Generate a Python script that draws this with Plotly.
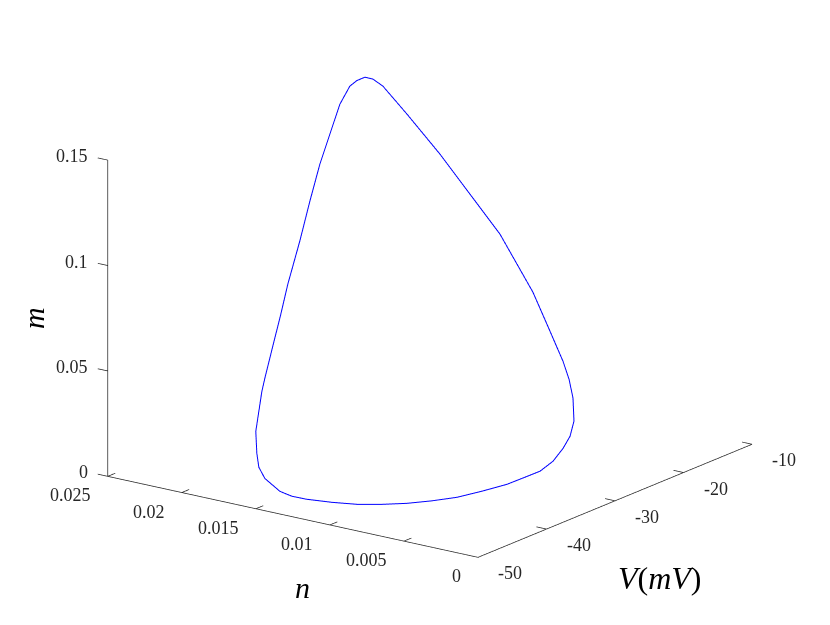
import plotly.graph_objects as go

# limit cycle (V in mV, gating variables n and m)
V = [-17, -16.5, -16, -16, -17, -18, -19.5, -21.5, -23, -24.5, -25.3, -26, -28,
     -29.2, -30.5, -31.8, -33, -35.5, -37, -38.5, -40, -41.5, -43, -44.5, -45.5,
     -46.5, -46.9, -47.2, -47.7, -47.9, -48, -48, -47.5, -47, -46.5, -45, -43,
     -40, -36, -31, -26, -22, -19, -18]
n = [0.02291, 0.02260, 0.02216, 0.02053, 0.01784, 0.01515, 0.01263, 0.00948,
     0.00763, 0.00606, 0.00528, 0.00469, 0.00370, 0.00341, 0.00328, 0.00336,
     0.00368, 0.00475, 0.00575, 0.00674, 0.00774, 0.00873, 0.00973, 0.01072,
     0.01195, 0.01317, 0.01400, 0.01467, 0.01546, 0.01577, 0.01586, 0.01593,
     0.01575, 0.01578, 0.01551, 0.01563, 0.01608, 0.01666, 0.01783, 0.01947,
     0.02111, 0.02228, 0.02300, 0.02299]
m = [0.1483, 0.1472, 0.1439, 0.1331, 0.1196, 0.1042, 0.0930, 0.0730, 0.0593,
     0.0495, 0.0432, 0.0361, 0.0294, 0.0243, 0.0205, 0.0160, 0.0124, 0.0079,
     0.0051, 0.0027, 0.0015, 0.0008, 0.0008, 0.0013, 0.0017, 0.0026, 0.0033,
     0.0050, 0.0106, 0.0157, 0.0223, 0.0326, 0.0512, 0.0567, 0.0707, 0.0846,
     0.0955, 0.1110, 0.1228, 0.1311, 0.1361, 0.1432, 0.1466, 0.1479]

V_ticks = [-50, -40, -30, -20, -10]
n_ticks = [0, 0.005, 0.01, 0.015, 0.02, 0.025]
n_labels = ['0', '0.005', '0.01', '0.015', '0.02', '0.025']
m_ticks = [0, 0.05, 0.1, 0.15]
m_labels = ['0', '0.05', '0.1', '0.15']

V_lim = [-50, -10]
n_lim = [0, 0.025]
m_lim = [0, 0.15]

axcol = '#262626'
tick_font = dict(family='Liberation Serif', size=18, color=axcol)
title_font = dict(family='Liberation Serif', size=30, color='black')

fig = go.Figure()

# closed orbit
fig.add_trace(go.Scatter3d(
    x=V + V[:1], y=n + n[:1], z=m + m[:1],
    mode='lines', line=dict(color='#0000ff', width=2),
    hoverinfo='skip', showlegend=False,
))

# axis lines (matlab style, box off)
ax_x = [V_lim[0], V_lim[0], None, V_lim[0], V_lim[0], V_lim[1]]
ax_y = [n_lim[1], n_lim[1], None, n_lim[1], n_lim[0], n_lim[0]]
ax_z = [m_lim[0], m_lim[1], None, 0, 0, 0]

# tick marks
tl = 0.027
dn = tl * (n_lim[1] - n_lim[0])
dV = tl * (V_lim[1] - V_lim[0])
for t in m_ticks:
    ax_x += [None, V_lim[0], V_lim[0]]
    ax_y += [None, n_lim[1], n_lim[1] + dn]
    ax_z += [None, t, t]
for t in n_ticks:
    ax_x += [None, V_lim[0], V_lim[0] + dV]
    ax_y += [None, t, t]
    ax_z += [None, 0, 0]
for t in V_ticks:
    ax_x += [None, t, t]
    ax_y += [None, n_lim[0], n_lim[0] + dn]
    ax_z += [None, 0, 0]

fig.add_trace(go.Scatter3d(
    x=ax_x, y=ax_y, z=ax_z, mode='lines',
    line=dict(color=axcol, width=1.5),
    hoverinfo='skip', showlegend=False, connectgaps=False,
))

annots = []
for t, lab in zip(m_ticks, m_labels):
    annots.append(dict(x=V_lim[0], y=n_lim[1], z=t, text=lab, showarrow=False,
                       xanchor='right', yanchor='middle', xshift=-18, yshift=4,
                       font=tick_font))
for t, lab in zip(n_ticks, n_labels):
    annots.append(dict(x=V_lim[0], y=t, z=0, text=lab, showarrow=False,
                       xanchor='right', yanchor='top', xshift=-15, yshift=-7,
                       font=tick_font))
for t in V_ticks:
    annots.append(dict(x=t, y=n_lim[0], z=0, text=str(t), showarrow=False,
                       xanchor='left', yanchor='middle', xshift=18, yshift=-16,
                       font=tick_font))
# axis titles
annots.append(dict(x=V_lim[0], y=n_lim[1], z=0.075, text='<i>m</i>', showarrow=False,
                   textangle=-90, xshift=-75, font=title_font))
annots.append(dict(x=V_lim[0], y=0.0125, z=0, text='<i>n</i>', showarrow=False,
                   xshift=10, yshift=-71, font=title_font))
annots.append(dict(x=-30, y=n_lim[0], z=0, text='<i>V</i>(<i>mV</i>)', showarrow=False,
                   xshift=45, yshift=-77, font=dict(title_font, size=32)))

hidden = dict(showgrid=False, zeroline=False, showline=False, showticklabels=False,
              ticks='', title='', showbackground=False, showspikes=False)

k = 4.0
s = 1.012
fig.update_layout(
    width=830, height=625,
    paper_bgcolor='white',
    margin=dict(l=13, r=8, t=3, b=50),
    scene=dict(
        xaxis=dict(range=[-50.4, -9.6], **hidden),
        yaxis=dict(range=[-0.0002, 0.0258], **hidden),
        zaxis=dict(range=[-0.001, 0.155], **hidden),
        aspectmode='manual',
        aspectratio=dict(x=1.641 * s, y=1.6457 * s, z=1.1913 * s),
        camera=dict(
            projection=dict(type='orthographic'),
            eye=dict(x=-0.7710 * k, y=-0.5615 * k, z=0.3004 * k),
            up=dict(x=0, y=0, z=1),
            center=dict(x=0, y=0, z=0),
        ),
        annotations=annots,
    ),
    showlegend=False,
    hovermode=False,
)

fig.write_html("out.html")
